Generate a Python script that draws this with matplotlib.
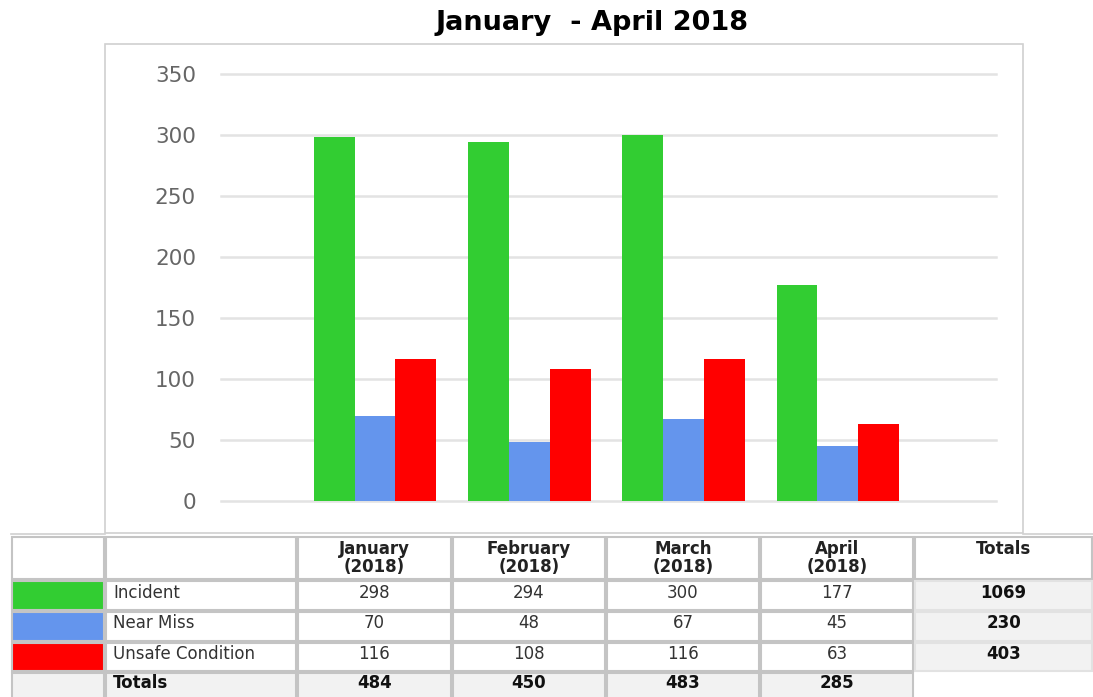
import numpy as np
import matplotlib.pyplot as plt
from matplotlib.patches import Rectangle

# data
months = ['January', 'February', 'March', 'April']
year = '2018'
categories = ['Incident', 'Near Miss', 'Unsafe Condition']
incident = [298, 294, 300, 177]
near_miss = [70, 48, 67, 45]
unsafe = [116, 108, 116, 63]
colors = ['#32cd32', '#6495ed', '#ff0000']
yticks = [0, 50, 100, 150, 200, 250, 300, 350]

series = [incident, near_miss, unsafe]

W, H = 1093, 697
fig = plt.figure(figsize=(W / 100, H / 100), dpi=100)
plt.rcParams['font.family'] = ['DejaVu Sans']


def box(x0, y0, x1, y1):
    # pixel box (top-left origin) -> figure fraction [l, b, w, h]
    return [x0 / W, 1 - y1 / H, (x1 - x0) / W, (y1 - y0) / H]


# overlay in pixel coords for frame and table
ov = fig.add_axes([0, 0, 1, 1])
ov.set_xlim(0, W)
ov.set_ylim(H, 0)
ov.axis('off')

# chart frame
ov.add_patch(Rectangle((105, 44), 1023 - 105, 533 - 44, fill=False,
                       edgecolor='#d0d0d0', lw=1.2))

fig.text(592 / W, 1 - 23 / H, 'January  - April 2018', ha='center', va='center',
         fontsize=19.5, fontweight='bold', color='black')

# bar chart
ax = fig.add_axes(box(221, 74, 996, 501))
x = np.arange(len(months))
bw = 0.265
for k, vals in enumerate(series):
    ax.bar(x + (k - 1) * bw, vals, bw, color=colors[k], zorder=3)
ax.set_xlim(-0.998, 4.025)
ax.set_ylim(0, 350)
ax.set_yticks(yticks)
ax.set_yticklabels([str(t) for t in yticks], fontsize=15.5, color='#666666')
ax.tick_params(axis='y', length=0, pad=18)
ax.set_xticks([])
ax.grid(axis='y', color='#e3e3e3', lw=1.8, zorder=0)
for gl in ax.get_ygridlines():
    gl.set_clip_on(False)
for s in ax.spines.values():
    s.set_visible(False)
ax.patch.set_alpha(0)

# table
col_x = [11, 105, 297, 452, 606, 760, 914, 1093]
row_y = [536, 580, 611, 642, 672, 703]
grey_bg = '#f2f2f2'
edge = '#c4c4c4'


def cell(c, r, fc='white', ec=edge):
    x0, x1 = col_x[c], col_x[c + 1]
    y0, y1 = row_y[r], row_y[r + 1]
    ov.add_patch(Rectangle((x0 + 1, y0 + 1), x1 - x0 - 2, y1 - y0 - 2,
                           facecolor=fc, edgecolor=ec, lw=1.5, clip_on=False))


# outer line above swatch column and to the right of the frame
ov.plot([11, 105], [534, 534], color='#d0d0d0', lw=1.2)
ov.plot([1023, 1093], [534, 534], color='#d0d0d0', lw=1.2)

# header row
cell(0, 0)
cell(1, 0)
for j, m in enumerate(months):
    cell(2 + j, 0)
    xc = (col_x[2 + j] + col_x[3 + j]) / 2
    ov.text(xc, 540, m + '\n(' + year + ')', ha='center', va='top', fontsize=12,
            fontweight='bold', color='#222222', linespacing=1.0)
cell(6, 0)
ov.text((col_x[6] + col_x[7]) / 2, 540, 'Totals', ha='center', va='top',
        fontsize=12, fontweight='bold', color='#222222')

# series rows
for i, name in enumerate(categories):
    r = i + 1
    yc = (row_y[r] + row_y[r + 1]) / 2 - 3
    cell(0, r, fc=colors[i])
    cell(1, r)
    ov.text(col_x[1] + 8, yc, name, ha='left', va='center', fontsize=12,
            color='#333333')
    for j in range(len(months)):
        cell(2 + j, r)
        xc = (col_x[2 + j] + col_x[3 + j]) / 2
        ov.text(xc, yc, str(series[i][j]), ha='center', va='center',
                fontsize=12, color='#333333')
    cell(6, r, fc=grey_bg, ec='#e2e2e2')
    ov.text((col_x[6] + col_x[7]) / 2, yc, str(sum(series[i])), ha='center',
            va='center', fontsize=12, fontweight='bold', color='#111111')

# totals row
r = 4
yc = (row_y[r] + row_y[r + 1]) / 2 - 4
cell(0, r, fc=grey_bg)
cell(1, r, fc=grey_bg)
ov.text(col_x[1] + 8, yc, 'Totals', ha='left', va='center', fontsize=12,
        fontweight='bold', color='#111111')
for j in range(len(months)):
    cell(2 + j, r, fc=grey_bg)
    xc = (col_x[2 + j] + col_x[3 + j]) / 2
    tot = sum(s[j] for s in series)
    ov.text(xc, yc, str(tot), ha='center', va='center', fontsize=12,
            fontweight='bold', color='#111111')

fig.savefig('out.png', dpi=100)
